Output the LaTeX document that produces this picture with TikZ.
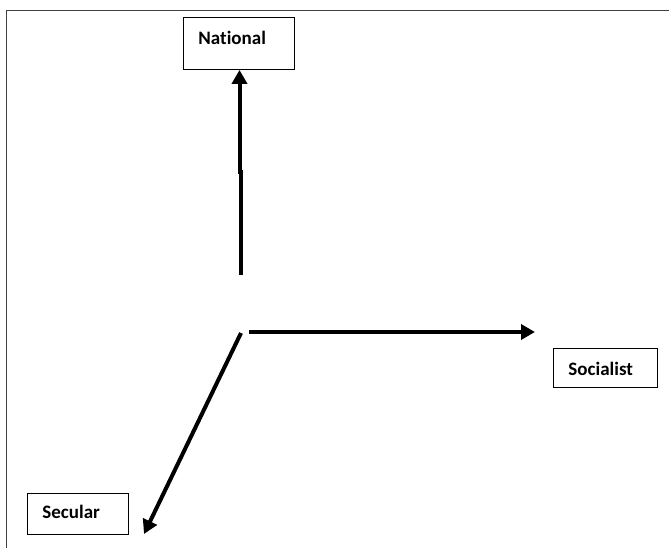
\documentclass[tikz,border=0pt]{standalone}
\usepackage{fontspec}
\setmainfont{Carlito}[Ligatures=NoCommon]
\usetikzlibrary{arrows.meta, positioning}

\begin{document}
\begin{tikzpicture}[x=1pt, y=-1pt, >={Triangle[length=14pt, width=15pt]},
    labelbox/.style={draw, line width=0.9pt, anchor=north west, inner sep=0pt,
        inner xsep=15pt, align=left, font=\bfseries\fontsize{19}{21}\selectfont},
    axis/.style={line width=4pt}]
    \useasboundingbox (0,0) rectangle (669,548);
    % frame (top and left only)
    \draw[line width=1.2pt, black!75] (669,10.5) -- (6.5,10.5) -- (6.5,548);

    \node[labelbox, text width=81pt, text height=27pt, text depth=25pt] (national) at (183,17) {National};
    \node[labelbox, text width=74pt, text height=27pt, text depth=12pt] (socialist) at (553,348) {Socialist};
    \node[labelbox, text width=71pt, text height=25pt, text depth=16pt] (secular) at (27,493) {Secular};

    \coordinate (vlow) at (240.5,275);
    \coordinate (vmid) at (240.5,170);
    \coordinate (vjog) at (239.5,174);
    \coordinate (hstart) at (249,332);
    \coordinate (hend) at (535,332);
    \coordinate (dstart) at (241,333);
    \coordinate (dend) at (144,534);

    \draw[axis] (vlow) -- (vmid);
    \draw[axis, ->] (vjog) -- (vjog |- national.south);
    \draw[axis, ->] (hstart) -- (hend);
    \draw[axis, ->] (dstart) -- (dend);
\end{tikzpicture}
\end{document}
